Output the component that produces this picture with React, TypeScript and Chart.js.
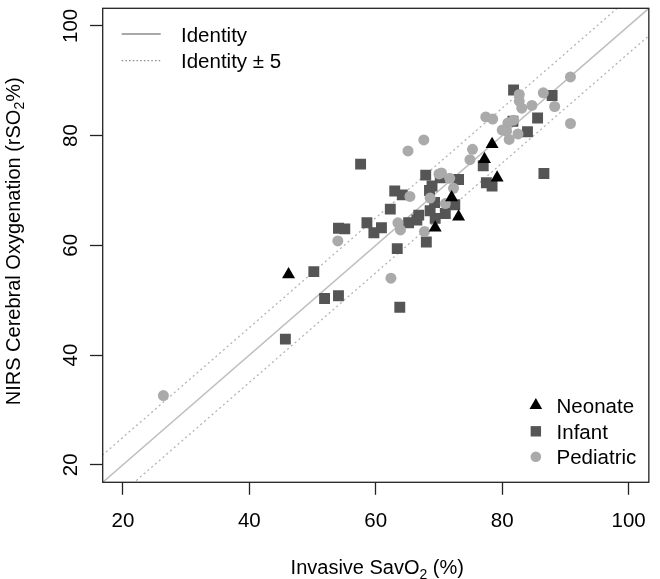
import React, { useEffect, useRef } from "react";
import { Chart, registerables } from "chart.js";

Chart.register(...registerables);

const FONT = '"Liberation Sans", Arial, Helvetica, sans-serif';

// Axis ranges / ticks
const AXIS_MIN = 16.8;
const AXIS_MAX = 103.2;
const xTicks = [20, 40, 60, 80, 100];
const yTicks = [20, 40, 60, 80, 100];

// Neonate (triangles)
const neonateX = [46.2, 69.4, 72.0, 73.1, 77.2, 78.4, 79.2];
const neonateY = [54.7, 63.2, 68.7, 65.2, 75.7, 78.4, 72.3];

// Infant (squares)
const infantX = [
  57.6, 67.9, 68.9, 68.5, 70.2, 73.1, 63.0, 64.2, 62.3, 69.3, 68.6, 66.8, 66.5,
  65.2, 69.4, 71.0, 72.5, 58.6, 59.7, 60.9, 54.1, 55.1, 63.4, 68.0, 50.2, 51.9,
  54.1, 63.8, 77.0, 77.5, 78.4, 81.8, 87.9, 85.6, 84.0, 86.6, 45.7, 81.7,
];
const infantY = [
  74.8, 72.8, 70.8, 70.0, 72.3, 72.0, 69.9, 69.2, 66.6, 67.8, 66.3, 65.5, 64.6,
  64.1, 64.9, 65.8, 67.4, 64.1, 62.3, 63.2, 63.1, 63.0, 59.4, 60.6, 55.2, 50.3,
  50.8, 48.7, 74.5, 71.4, 70.8, 88.3, 87.3, 83.2, 80.7, 73.1, 42.9, 82.6,
];

// Pediatric (circles)
const pediatricX = [
  65.1, 67.6, 75.3, 74.9, 70.4, 71.7, 72.3, 65.4, 68.6, 71.0, 63.5, 63.9, 67.7,
  54.0, 62.4, 90.8, 86.5, 82.7, 82.7, 83.1, 84.7, 88.3, 77.4, 78.5, 81.8, 80.9,
  80.0, 80.7, 82.5, 81.1, 90.8, 26.4, 70.0,
];
const pediatricY = [
  77.2, 79.2, 77.5, 75.6, 73.2, 72.2, 70.4, 68.9, 68.6, 67.6, 64.1, 62.8, 62.5,
  60.8, 54.0, 90.7, 87.8, 87.5, 86.3, 85.0, 85.5, 85.3, 83.4, 83.0, 82.8, 82.3,
  81.0, 80.8, 80.3, 79.3, 82.2, 32.6, 73.0,
];

// Identity lines
const identityX = [0, 120];
const bandOffset = 5;

const groupLabels = ["Neonate", "Infant", "Pediatric"];
const groupColors = ["#000000", "#555555", "#aaaaaa"];
const lineLabels = ["Identity", "Identity \u00b1 5"];

const toPts = (xs: number[], ys: number[]) => xs.map((x, i) => ({ x, y: ys[i] }));

function drawRich(
  ctx: CanvasRenderingContext2D,
  parts: { t: string; sub?: boolean }[],
  cx: number,
  cy: number,
  size: number
) {
  const subSize = size * 0.7;
  let total = 0;
  const widths = parts.map((p) => {
    ctx.font = `${p.sub ? subSize : size}px ${FONT}`;
    const w = ctx.measureText(p.t).width;
    total += w;
    return w;
  });
  let x = cx - total / 2;
  ctx.textAlign = "left";
  ctx.textBaseline = "alphabetic";
  parts.forEach((p, i) => {
    ctx.font = `${p.sub ? subSize : size}px ${FONT}`;
    ctx.fillText(p.t, x, cy + (p.sub ? size * 0.22 : 0));
    x += widths[i];
  });
}

function drawSymbol(ctx: CanvasRenderingContext2D, kind: number, x: number, y: number) {
  ctx.fillStyle = groupColors[kind];
  ctx.beginPath();
  if (kind === 0) {
    const r = 7.3;
    for (let k = 0; k < 3; k++) {
      const a = (k * 2 * Math.PI) / 3;
      const px = x + Math.sin(a) * r;
      const py = y - Math.cos(a) * r;
      if (k === 0) ctx.moveTo(px, py);
      else ctx.lineTo(px, py);
    }
    ctx.closePath();
  } else if (kind === 1) {
    ctx.rect(x - 5.2, y - 5.2, 10.4, 10.4);
  } else {
    ctx.arc(x, y, 5.3, 0, Math.PI * 2);
  }
  ctx.fill();
}

const rStylePlugin = {
  id: "rStyle",
  afterDraw(chart: any) {
    const { ctx, chartArea: a, scales } = chart;
    const ys = scales.y;
    ctx.save();
    // box
    ctx.strokeStyle = "#222";
    ctx.lineWidth = 1.3;
    ctx.strokeRect(a.left, a.top, a.right - a.left, a.bottom - a.top);

    // y tick labels (rotated, parallel to axis)
    ctx.fillStyle = "#000";
    ctx.font = `20.5px ${FONT}`;
    ctx.textAlign = "center";
    ctx.textBaseline = "alphabetic";
    yTicks.forEach((v) => {
      const py = ys.getPixelForValue(v);
      ctx.save();
      ctx.translate(a.left - 26, py);
      ctx.rotate(-Math.PI / 2);
      ctx.fillText(String(v), 0, 0);
      ctx.restore();
    });

    // axis titles
    ctx.fillStyle = "#000";
    drawRich(
      ctx,
      [{ t: "Invasive SavO" }, { t: "2", sub: true }, { t: " (%)" }],
      (a.left + a.right) / 2 + 1.5,
      574.3,
      20
    );
    ctx.save();
    ctx.translate(20, (a.top + a.bottom) / 2 - 4);
    ctx.rotate(-Math.PI / 2);
    drawRich(
      ctx,
      [{ t: "NIRS Cerebral Oxygenation (rSO" }, { t: "2", sub: true }, { t: "%)" }],
      0,
      0,
      20
    );
    ctx.restore();

    // top-left legend (lines)
    const lx0 = a.left + 19;
    const lx1 = a.left + 58;
    const ly = [a.top + 25.7, a.top + 52.4];
    ctx.strokeStyle = "#8c8c8c";
    ctx.lineWidth = 1.6;
    ctx.setLineDash([]);
    ctx.beginPath();
    ctx.moveTo(lx0, ly[0]);
    ctx.lineTo(lx1, ly[0]);
    ctx.stroke();
    ctx.strokeStyle = "#8c8c8c";
    ctx.lineWidth = 1.3;
    ctx.setLineDash([1.5, 2.2]);
    ctx.beginPath();
    ctx.moveTo(lx0, ly[1]);
    ctx.lineTo(lx1, ly[1]);
    ctx.stroke();
    ctx.setLineDash([]);
    ctx.fillStyle = "#000";
    ctx.font = `20.5px ${FONT}`;
    ctx.textAlign = "left";
    ctx.textBaseline = "alphabetic";
    lineLabels.forEach((t, i) => ctx.fillText(t, a.left + 78.3, ly[i] + 7.5));

    // bottom-right legend (groups)
    const sx = a.right - 113;
    const tx = a.right - 92.3;
    const gy = [a.bottom - 77, a.bottom - 51, a.bottom - 25.5];
    groupLabels.forEach((t, i) => {
      drawSymbol(ctx, i, sx, gy[i]);
      ctx.fillStyle = "#000";
      ctx.font = `20.5px ${FONT}`;
      ctx.textAlign = "left";
      ctx.fillText(t, tx, gy[i] + 7.5);
    });
    ctx.restore();
  },
};

export default function App() {
  const canvasRef = useRef<HTMLCanvasElement | null>(null);

  useEffect(() => {
    if (!canvasRef.current) return;
    const linePts = (off: number) => identityX.map((x) => ({ x, y: x + off }));
    const chart = new Chart(canvasRef.current, {
      type: "scatter",
      data: {
        datasets: [
          {
            label: groupLabels[0],
            data: toPts(neonateX, neonateY),
            pointStyle: "triangle",
            pointRadius: 7.5,
            pointBackgroundColor: groupColors[0],
            pointBorderWidth: 0,
            borderColor: groupColors[0],
          },
          {
            label: groupLabels[2],
            data: toPts(pediatricX, pediatricY),
            pointStyle: "circle",
            pointRadius: 5.5,
            pointBackgroundColor: groupColors[2],
            pointBorderWidth: 0,
            borderColor: groupColors[2],
          },
          {
            label: groupLabels[1],
            data: toPts(infantX, infantY),
            pointStyle: "rect",
            pointRadius: 7.7,
            pointBackgroundColor: groupColors[1],
            pointBorderWidth: 0,
            borderColor: groupColors[1],
          },
          {
            label: "Identity",
            data: linePts(0),
            showLine: true,
            pointRadius: 0,
            borderColor: "#bebebe",
            borderWidth: 1.5,
          },
          {
            label: "Identity + 5",
            data: linePts(bandOffset),
            showLine: true,
            pointRadius: 0,
            borderColor: "#b4b4b4",
            borderWidth: 1.3,
            borderDash: [2, 3],
          },
          {
            label: "Identity - 5",
            data: linePts(-bandOffset),
            showLine: true,
            pointRadius: 0,
            borderColor: "#b4b4b4",
            borderWidth: 1.3,
            borderDash: [2, 3],
          },
        ],
      },
      options: {
        responsive: false,
        animation: false,
        events: [],
        layout: { padding: { top: 8.3, right: 6, left: 0, bottom: 0 } },
        plugins: {
          legend: { display: false },
          tooltip: { enabled: false },
        },
        scales: {
          x: {
            type: "linear",
            min: AXIS_MIN,
            max: AXIS_MAX,
            afterBuildTicks: (s: any) => {
              s.ticks = xTicks.map((value) => ({ value }));
            },
            afterFit: (s: any) => {
              s.height = 579 - 482.3;
            },
            ticks: {
              color: "#000",
              font: { family: FONT, size: 20.5 },
              padding: 14,
              autoSkip: false,
              maxRotation: 0,
              minRotation: 0,
            },
            grid: {
              drawOnChartArea: false,
              drawTicks: true,
              tickLength: 12.5,
              tickColor: "#222",
              tickWidth: 1.3,
            },
            border: { display: false },
          },
          y: {
            type: "linear",
            min: AXIS_MIN,
            max: AXIS_MAX,
            afterBuildTicks: (s: any) => {
              s.ticks = yTicks.map((value) => ({ value }));
            },
            afterFit: (s: any) => {
              s.width = 102.7;
            },
            ticks: { display: false },
            grid: {
              drawOnChartArea: false,
              drawTicks: true,
              tickLength: 12.7,
              tickColor: "#222",
              tickWidth: 1.3,
            },
            border: { display: false },
          },
        },
      },
      plugins: [rStylePlugin],
    });
    return () => chart.destroy();
  }, []);

  return (
    <div style={{ position: "absolute", left: 0, top: 0, width: 660, height: 579, background: "#fff" }}>
      <canvas ref={canvasRef} width={660} height={579} style={{ width: 660, height: 579 }} />
    </div>
  );
}
